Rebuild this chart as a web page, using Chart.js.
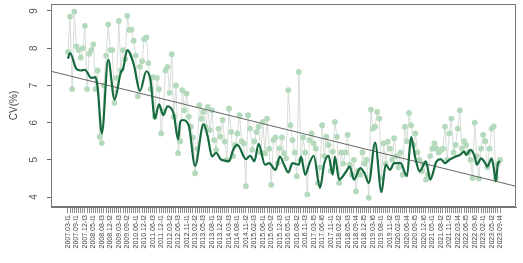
<!DOCTYPE html>
<html>
<head>
<meta charset="utf-8">
<script src="https://cdn.jsdelivr.net/npm/chart.js@4.4.1/dist/chart.umd.min.js"></script>
<style>
  html, body { margin: 0; padding: 0; background: #fff; }
  #wrap { width: 523px; height: 263px; }
</style>
</head>
<body>
<div id="wrap"><canvas id="cvChart"></canvas></div>
<script>
// tick labels, one every 4 periods
const tickLabels = [
    '2007.03-I1', '2007.09-I1', '2007.12-I3', '2008.05-I1', '2008.08-I3', '2008.12-I2',
    '2009.03-I3', '2009.09-I2', '2010.06-I1', '2010.12-I2', '2011.06-I3', '2011.12-I1',
    '2012.03-I2', '2012.06-I3', '2012.11-I1', '2013.02-I2', '2013.05-I3', '2013.08-I1',
    '2013.12-I2', '2014.03-I3', '2014.08-I1', '2014.11-I2', '2015.02-I3', '2015.06-I1',
    '2015.09-I2', '2015.12-I3', '2016.05-I1', '2016.08-I2', '2016.11-I3', '2017.03-I5',
    '2017.06-I6', '2017.11-I1', '2018.02-I2', '2018.05-I3', '2018.09-I4', '2018.12-I5',
    '2019.03-I6', '2019.08-I1', '2019.11-I2', '2020.02-I3', '2020.06-I4', '2020.09-I5',
    '2020.12-I6', '2021.05-I1', '2021.08-I2', '2021.11-I3', '2022.03-I4', '2022.06-I5',
    '2022.09-I6', '2023.02-I1', '2023.05-I2', '2023.09-I4'
];
const labelStep = 4;

// observed CV(%) per period
const cvValues = [
    7.9, 8.85, 6.9, 8.98,   8.05, 7.95, 7.75, 8.0,   8.6, 6.9, 7.85, 7.95,   8.1, 6.9, 7.4, 5.62,
    5.45, 7.0, 7.8, 8.64,   7.95, 7.95, 6.53, 7.2,   8.73, 7.4, 7.95, 7.7,   8.87, 8.49, 8.5, 8.2,
    7.8, 6.71, 7.5, 7.65,   8.24, 8.29, 7.6, 6.9,    7.22, 6.16, 7.2, 6.9,   5.71, 6.3, 7.4, 7.5,
    6.8, 7.84, 6.16, 7.0,   5.18, 5.5, 6.87, 6.33,   6.78, 6.16, 5.89, 5.6,  4.64, 5.3, 6.47, 6.1,
    6.29, 5.89, 6.42, 5.8,  6.33, 5.53, 5.27, 5.84,  5.62, 6.07, 5.49, 5.0,  6.38, 5.75, 5.1, 5.4,
    5.71, 6.2, 5.5, 5.44,   4.29, 6.2, 5.84, 5.27,   5.5, 5.75, 5.89, 5.2,   6.02, 5.18, 6.11, 5.3,
    4.33, 5.53, 5.6, 4.91,  5.31, 5.6, 5.18, 5.04,   6.87, 5.93, 5.53, 5.2,  4.56, 7.36, 5.0, 5.6,
    5.2, 4.07, 5.53, 5.71,  5.44, 5.3, 4.38, 4.8,    5.93, 5.1, 5.62, 5.4,   4.7, 5.22, 6.02, 5.62,
    4.38, 5.2, 4.9, 5.2,    5.67, 4.87, 4.6, 5.0,    4.15, 4.7, 4.6, 5.2,    4.9, 5.0, 3.98, 6.35,
    5.84, 5.89, 6.29, 6.11, 4.51, 5.44, 4.9, 5.49,   5.3, 5.0, 5.58, 5.1,    4.8, 5.2, 4.6, 5.89,
    5.5, 6.26, 5.93, 5.4,   5.71, 5.2, 5.0, 4.7,     4.9, 4.47, 4.6, 5.1,    5.3, 5.44, 5.3, 5.2,
    5.25, 5.3, 5.89, 5.0,   5.71, 6.11, 5.2, 5.4,    5.84, 6.33, 5.3, 5.5,   5.4, 5.2, 5.0, 4.51,
    6.0, 5.1, 4.5, 5.3,     5.67, 5.5, 4.8, 5.3,     5.84, 5.9, 4.5, 4.9,    5.0
];

// smoothed curve, read at turning points (period index -> CV)
const smoothIdx = [
    0, 1, 4, 6, 8, 11, 13, 14, 16, 19, 22, 25, 26, 28, 31, 34, 37, 39, 41, 43, 45, 47, 49, 50,
    52, 53, 54, 57, 60, 64, 66, 68, 70, 72, 74, 76, 78, 80, 84, 86, 88, 90, 93, 95, 98, 100,
    102, 104, 106, 109, 110, 112, 114, 116, 119, 121, 123, 125, 126, 128, 131, 133, 135, 138,
    140, 142, 145, 148, 150, 152, 154, 157, 160, 162, 164, 166, 169, 171, 174, 176, 178, 180,
    183, 185, 187, 188, 190, 192, 193, 195, 197, 198, 200, 201, 202, 203, 204
];
const smoothVals = [
    7.72, 7.87, 7.44, 7.40, 7.42, 7.20, 7.22, 6.95, 5.71, 7.69, 6.62, 7.36, 7.44, 7.95, 7.58, 6.85,
    7.38, 7.13, 6.11, 6.49, 6.20, 6.44, 6.36, 6.22,
    5.55, 6.02, 6.07, 5.93, 4.84, 5.96, 5.62, 5.09, 5.19, 5.02, 4.98, 4.96, 5.27, 5.40, 5.02, 5.11,
    4.96, 5.43, 4.87, 4.91, 4.73, 5.09,
    4.87, 4.66, 4.91, 4.87, 5.09, 4.60, 4.91, 5.11, 4.25, 4.91, 5.11, 4.60, 5.09, 4.47, 4.66, 4.82,
    4.47, 4.78,
    4.64, 4.38, 5.46, 4.13, 4.87, 4.73, 4.91, 4.91, 4.56, 5.61, 5.04, 4.69, 4.96, 4.47, 4.96, 5.02,
    4.91, 5.00,
    5.09, 5.13, 5.22, 5.13, 5.27, 5.09, 4.87, 5.04, 4.91, 4.82, 5.04, 4.78, 4.42, 4.91, 4.96
];

// linear trend
const trendIntercept = 7.267;
const trendSlope = -0.01408;

const yTicks = [4, 5, 6, 7, 8, 9];
const xMin = -8, xMax = 211.5;
const yMin = 3.733, yMax = 9.187;

const fontFamily = '"Liberation Sans", Arial, sans-serif';

// box round the plot and y labels turned like R's las=0
const boxPlugin = {
    id: 'box',
    afterDraw(chart) {
        const a = chart.chartArea;
        const c = chart.ctx;
        const ys = chart.scales.y;
        c.save();
        c.strokeStyle = '#777';
        c.lineWidth = 1;
        c.strokeRect(Math.round(a.left) + 0.5, Math.round(a.top) + 0.5,
            Math.round(a.right - a.left) - 1, Math.round(a.bottom - a.top) - 1);
        c.fillStyle = '#555';
        c.font = '10px ' + fontFamily;
        c.textAlign = 'center';
        c.textBaseline = 'middle';
        yTicks.forEach(v => {
            c.save();
            c.translate(a.left - 17, ys.getPixelForValue(v));
            c.rotate(-Math.PI / 2);
            c.fillText(String(v), 0, 0);
            c.restore();
        });
        c.restore();
    }
};

const ctx = document.getElementById('cvChart').getContext('2d');
new Chart(ctx, {
    type: 'line',
    data: {
        datasets: [
            {
                label: 'smooth',
                data: smoothIdx.map((x, j) => ({ x: x, y: smoothVals[j] })),
                borderColor: '#166a3e',
                borderWidth: 2.2,
                pointRadius: 0,
                cubicInterpolationMode: 'monotone',
                order: 0
            },
            {
                label: 'trend',
                data: [
                    { x: xMin, y: trendIntercept + trendSlope * xMin },
                    { x: xMax, y: trendIntercept + trendSlope * xMax }
                ],
                borderColor: '#666',
                borderWidth: 1,
                pointRadius: 0,
                order: 1
            },
            {
                label: 'CV',
                data: cvValues.map((v, i) => ({ x: i, y: v })),
                borderColor: '#d6ddd7',
                borderWidth: 1,
                pointRadius: 2.9,
                pointBorderWidth: 0,
                pointBackgroundColor: '#b4d9bc',
                order: 2
            }
        ]
    },
    plugins: [boxPlugin],
    options: {
        responsive: true,
        maintainAspectRatio: false,
        animation: false,
        layout: { padding: { top: 3, right: 7, left: 0, bottom: 0 } },
        plugins: { legend: { display: false }, tooltip: { enabled: false } },
        scales: {
            x: {
                type: 'linear',
                min: xMin,
                max: xMax,
                afterFit: s => { s.height = 56; },
                afterBuildTicks: s => { s.ticks = cvValues.map((v, i) => ({ value: i })); },
                ticks: {
                    autoSkip: false,
                    minRotation: 90,
                    maxRotation: 90,
                    padding: 2,
                    color: '#444',
                    font: { size: 7, family: fontFamily },
                    callback: v => (v % labelStep === 0 ? tickLabels[v / labelStep] : '')
                },
                grid: { drawOnChartArea: false, tickLength: 6, color: '#8c8c8c' },
                border: { color: '#777' }
            },
            y: {
                min: yMin,
                max: yMax,
                afterFit: s => { s.width = 51; },
                afterBuildTicks: s => { s.ticks = yTicks.map(v => ({ value: v })); },
                ticks: { display: false },
                title: {
                    display: true,
                    text: 'CV(%)',
                    color: '#444',
                    font: { size: 10, family: fontFamily },
                    padding: { top: 8, bottom: 0 }
                },
                grid: { drawOnChartArea: false, tickLength: 4, color: '#666' },
                border: { color: '#777' }
            }
        }
    }
});
</script>
</body>
</html>
